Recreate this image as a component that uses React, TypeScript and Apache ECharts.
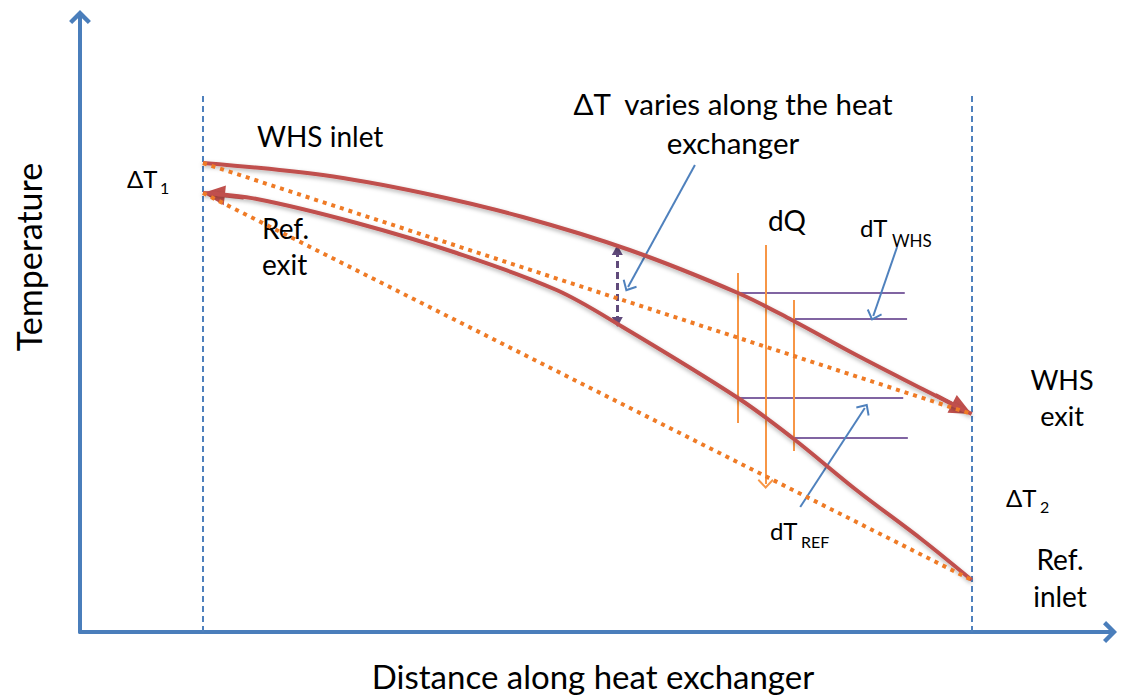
import React, { useEffect, useRef } from "react";
import * as echarts from "echarts";

// Water heating stream (WHS) temperature profile along the exchanger
const DIST_WHS = [0, 15.6, 28.6, 41.6, 55.5, 69.6, 76.6, 85.0, 93.6, 100];
const TEMP_WHS = [93.8, 91.4, 87.8, 83.0, 76.4, 67.8, 62.4, 55.4, 48.6, 43.6];
// Refrigerant temperature profile
const DIST_REF = [0, 7.0, 20.0, 33.0, 46.0, 54.6, 69.6, 76.7, 85.0, 93.6, 100];
const TEMP_REF = [87.8, 86.6, 81.8, 75.8, 68.4, 61.0, 46.8, 38.8, 28.4, 18.4, 10.4];
// Straight (linear) approximations, dotted
const LINEAR_WHS = [[0, 93.8], [100, 43.6]];
const LINEAR_REF = [[0, 87.8], [100, 10.4]];
// Exchanger boundaries
const BOUNDARY_X = [0, 100];
const BOUNDARY_TOP = 107.8;
// dQ slice verticals: [x, top, bottom]
const DQ_LINES = [[69.6, 71.8, 41.8], [76.8, 66.4, 36.2]];
const DQ_ARROW = [73.2, 77.4, 29.6];
// dT levels: [temperature, xStart, xEnd]
const DT_LEVELS = [[67.8, 69.6, 91.3], [62.6, 76.8, 91.6], [46.8, 69.6, 91.1], [38.8, 77.0, 91.7]];
// Delta T double arrow: [x, top, bottom]
const DELTA_T = [53.9, 76.4, 62.0];
// Annotation pointers: [from, to]
const POINTERS = [
  [[64.0, 93.4], [55.3, 69.0]],
  [[90.3, 77.0], [87.2, 63.2]],
  [[77.7, 25.0], [86.1, 44.8]],
];
// Arrow heads on the curves: [from, to]
const CURVE_HEADS = [
  [[95.29, 47.38], [98.73, 44.62]],
  [[5.29, 86.9], [1.42, 87.56]],
];

const CHEVRON_THICK = "path://M10,0 L20,10 L17.2,12.8 L10,5.6 L2.8,12.8 L0,10 Z";
const CHEVRON_THIN = "path://M10,0 L20,10 L18.3,11.7 L10,3.4 L1.7,11.7 L0,10 Z";

const FONT = "Lato, 'Open Sans', sans-serif";

function txt(text: string, x: number, y: number, size: number, align = "left", rotation = 0) {
  return {
    type: "text",
    x,
    y,
    rotation,
    silent: true,
    style: {
      text,
      fill: "#000",
      fontSize: size,
      fontFamily: FONT,
      align,
      verticalAlign: "middle",
    },
  };
}

export default function App() {
  const ref = useRef<HTMLDivElement>(null);
  useEffect(() => {
    if (!ref.current) return;
    const chart = echarts.init(ref.current, null, { renderer: "svg" });
    const axisLineStyle = { color: "#4a7ebb", width: 4 };
    const option: any = {
      animation: false,
      grid: { left: 80, right: 12, top: 17, bottom: 65, containLabel: false },
      xAxis: {
        type: "value",
        min: -16,
        max: 118,
        axisLine: { show: true, onZero: false, symbol: ["none", CHEVRON_THICK], symbolSize: [22, 14], lineStyle: axisLineStyle },
        axisTick: { show: false },
        axisLabel: { show: false },
        splitLine: { show: false },
      },
      yAxis: {
        type: "value",
        min: 0,
        max: 123,
        axisLine: { show: true, onZero: false, symbol: ["none", CHEVRON_THICK], symbolSize: [22, 14], lineStyle: axisLineStyle },
        axisTick: { show: false },
        axisLabel: { show: false },
        splitLine: { show: false },
      },
      series: [
        {
          type: "lines",
          coordinateSystem: "cartesian2d",
          silent: true,
          symbol: "none",
          lineStyle: { color: "#4f81bd", width: 2, type: [6, 4], opacity: 1 },
          data: BOUNDARY_X.map((x) => ({ coords: [[x, 0], [x, BOUNDARY_TOP]] })),
        },
        {
          type: "line",
          silent: true,
          smooth: 0.35,
          symbol: "none",
          lineStyle: { color: "#c0504d", width: 4, shadowColor: "rgba(0,0,0,0.3)", shadowBlur: 4, shadowOffsetY: 2 },
          data: DIST_WHS.map((d, i) => [d, TEMP_WHS[i]]),
        },
        {
          type: "line",
          silent: true,
          smooth: 0.35,
          symbol: "none",
          lineStyle: { color: "#c0504d", width: 4, shadowColor: "rgba(0,0,0,0.3)", shadowBlur: 4, shadowOffsetY: 2 },
          data: DIST_REF.map((d, i) => [d, TEMP_REF[i]]),
        },
        {
          type: "lines",
          coordinateSystem: "cartesian2d",
          silent: true,
          symbol: ["none", "triangle"],
          symbolSize: [[1, 1], [20, 22]],
          lineStyle: { color: "#c0504d", width: 4, opacity: 1 },
          data: CURVE_HEADS.map((c) => ({ coords: c })),
        },
        {
          type: "line",
          silent: true,
          symbol: "none",
          lineStyle: { color: "#ef7b26", width: 4, type: [4, 5], cap: "butt" },
          data: LINEAR_WHS,
        },
        {
          type: "line",
          silent: true,
          symbol: "none",
          lineStyle: { color: "#ef7b26", width: 4, type: [4, 5], cap: "butt" },
          data: LINEAR_REF,
        },
        {
          type: "lines",
          coordinateSystem: "cartesian2d",
          silent: true,
          symbol: "none",
          lineStyle: { color: "#8064a2", width: 2, opacity: 1 },
          data: DT_LEVELS.map(([t, a, b]) => ({ coords: [[a, t], [b, t]] })),
        },
        {
          type: "lines",
          coordinateSystem: "cartesian2d",
          silent: true,
          symbol: "none",
          lineStyle: { color: "#f79646", width: 2, opacity: 1 },
          data: DQ_LINES.map(([x, a, b]) => ({ coords: [[x, a], [x, b]] })),
        },
        {
          type: "lines",
          coordinateSystem: "cartesian2d",
          silent: true,
          symbol: ["none", CHEVRON_THIN],
          symbolSize: [[1, 1], [16, 10]],
          lineStyle: { color: "#f79646", width: 2, opacity: 1 },
          data: [{ coords: [[DQ_ARROW[0], DQ_ARROW[1]], [DQ_ARROW[0], DQ_ARROW[2]]] }],
        },
        {
          type: "lines",
          coordinateSystem: "cartesian2d",
          silent: true,
          symbol: ["none", CHEVRON_THIN],
          symbolSize: [[1, 1], [16, 10]],
          lineStyle: { color: "#4f81bd", width: 2, opacity: 1 },
          data: POINTERS.map((c) => ({ coords: c })),
        },
        {
          type: "lines",
          coordinateSystem: "cartesian2d",
          silent: true,
          symbol: ["triangle", "triangle"],
          symbolSize: [[11, 10], [11, 10]],
          lineStyle: { color: "#604a7b", width: 3, type: [7, 4], opacity: 1 },
          data: [{ coords: [[DELTA_T[0], DELTA_T[1]], [DELTA_T[0], DELTA_T[2]]] }],
        },
      ],
      graphic: [
        txt("Temperature", 28, 257, 34, "center", Math.PI / 2),
        txt("Distance along heat exchanger", 593, 676, 33, "center"),
        txt("WHS inlet", 257, 136, 28),
        txt("Ref.", 262, 228, 28),
        txt("exit", 262, 264, 28),
        txt("ΔT", 127, 178, 24),
        txt("1", 160, 187, 16),
        txt("ΔT  varies along the heat", 733, 103, 29.5, "center"),
        txt("exchanger", 733, 142, 29.5, "center"),
        txt("dQ", 768, 220, 28),
        txt("dT", 860, 227, 24),
        txt("WHS", 892, 240, 17),
        txt("WHS", 1062, 379, 27, "center"),
        txt("exit", 1062, 415, 27, "center"),
        txt("ΔT", 1006, 497, 24),
        txt("2", 1040, 506, 16),
        txt("dT", 770, 530, 24),
        txt("REF", 801, 541, 16),
        txt("Ref.", 1060, 559, 28, "center"),
        txt("inlet", 1060, 596, 28, "center"),
      ],
    };
    chart.setOption(option);
    return () => chart.dispose();
  }, []);
  return (
    <div
      ref={ref}
      style={{ position: "absolute", left: 0, top: 0, width: 1122, height: 697, background: "#fff" }}
    />
  );
}
